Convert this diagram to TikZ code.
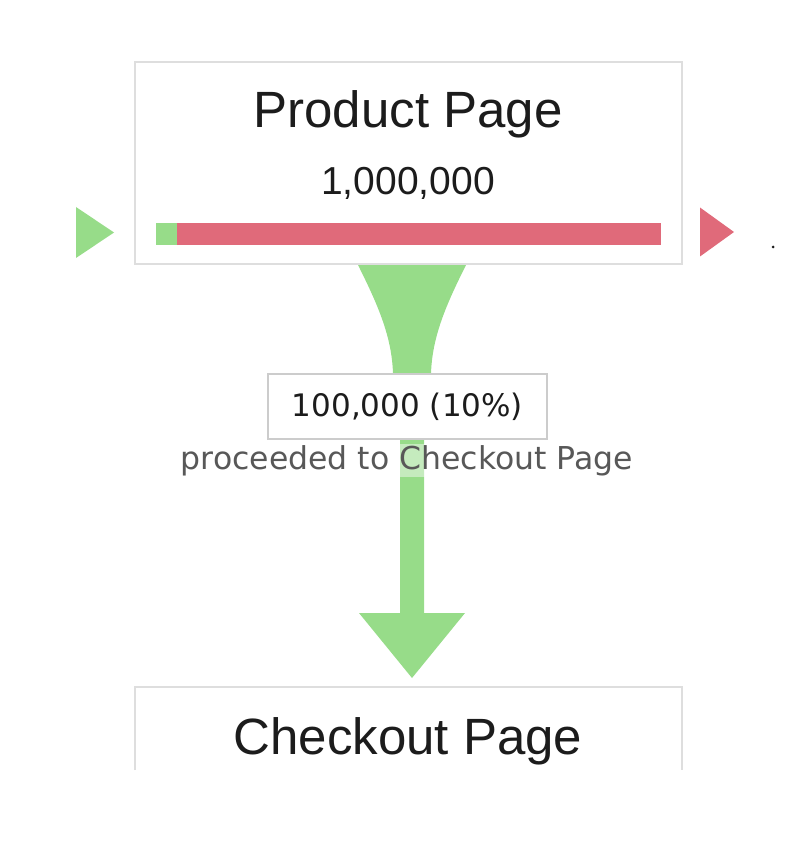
\documentclass[tikz,border=0pt]{standalone}
\usepackage{fontspec}
\setmainfont{Liberation Sans}
\newfontfamily\flowfont{DejaVu Sans}
\usetikzlibrary{shapes,calc,backgrounds}
\definecolor{flow-gr}{RGB}{151, 220, 137}
\definecolor{flow-re}{RGB}{224, 106, 122}
\definecolor{frame-gr}{RGB}{222, 222, 222}
\definecolor{label-gr}{RGB}{204, 204, 204}
\definecolor{ink}{RGB}{28, 28, 28}
\definecolor{subink}{RGB}{88, 88, 88}
\tikzstyle{a}=[anchor=center,inner sep=0pt,outer sep=0pt]
\tikzstyle{page}=[a,draw=frame-gr,line width=1.5pt,fill=white,minimum width=547pt,minimum height=202pt]
\tikzstyle{frame}=[draw=frame-gr,line width=1.5pt]
\tikzstyle{title}=[anchor=base,inner sep=0pt,text=ink,font=\fontsize{51}{60}\selectfont]
\tikzstyle{count}=[anchor=base,inner sep=0pt,text=ink,font=\fontsize{39}{46}\selectfont]
\tikzstyle{bar}=[a,minimum height=22pt]
\tikzstyle{marker}=[isosceles triangle,isosceles triangle stretches=true,inner sep=0pt,outer sep=0pt,anchor=apex]
\tikzstyle{flowbox}=[a,draw=label-gr,line width=1.5pt,fill=white,minimum width=279pt,minimum height=65pt,text=ink,font=\flowfont\fontsize{31}{36}\selectfont]
\tikzstyle{flowtext}=[anchor=base,inner sep=1pt,text=subink,fill=white,fill opacity=0.45,text opacity=1,font=\flowfont\fontsize{31.5}{36}\selectfont]
\tikzstyle{flow}=[fill=flow-gr]

\begin{document}
\begin{tikzpicture}[x=1pt,y=-1pt]
  \useasboundingbox (0,0) rectangle (800,866);

  % product page
  \node[page] at (408.5,163) (product) {};
  \node[title] at (408,128) (ptitle) {Product Page};
  \node[count] at (408,195) (pcount) {1,000,000};
  \node[bar,fill=flow-gr,minimum width=21pt] at (166.5,234) (inbar) {};
  \node[bar,fill=flow-re,minimum width=484pt] at (419,234) (outbar) {};

  \node[marker,fill=flow-gr,minimum width=51pt,minimum height=38pt] at (114,232.5) (entry) {};
  \node[marker,fill=flow-re,minimum width=49pt,minimum height=34pt] at (734,232) (exit) {};
  \node[a,circle,fill=ink,minimum size=3pt] at (773,247) (dot) {};

  % checkout page (cut off at the bottom)
  \node[page,draw=none,minimum height=83pt] at (408.5,728.5) (checkout) {};
  \draw[frame] (checkout.south west) -- (checkout.north west) -- (checkout.north east) -- (checkout.south east);
  \node[title] at (408,754) (ctitle) {Checkout Page};

  \coordinate (link) at (412,0);
  \node[flowbox] at (407.5,406.5) (flowbox) {100,000 (10\%)};

  \begin{scope}[on background layer]
    % funnel
    \fill[flow] ($(link|-product.south)+(-54,1)$) .. controls +(20,40) and +(-1,-37) .. ($(link|-flowbox.north)+(-19,0)$)
      -- ($(link|-flowbox.north)+(19,0)$) .. controls +(1,-37) and +(-20,40) .. ($(link|-product.south)+(54,1)$) -- cycle;
    % arrow down
    \fill[flow] ($(link|-flowbox.south)+(-12,0)$) -- ($(link|-checkout.north)+(-12,-74)$) -- ++(-41,0)
      -- ($(link|-checkout.north)+(0,-9)$) -- ($(link|-checkout.north)+(53,-74)$) -- ++(-41,0)
      -- ($(link|-flowbox.south)+(12,0)$) -- cycle;
  \end{scope}
  \node[flowtext] at (407,469) (flowlbl) {proceeded to Checkout Page};

\end{tikzpicture}
\end{document}
